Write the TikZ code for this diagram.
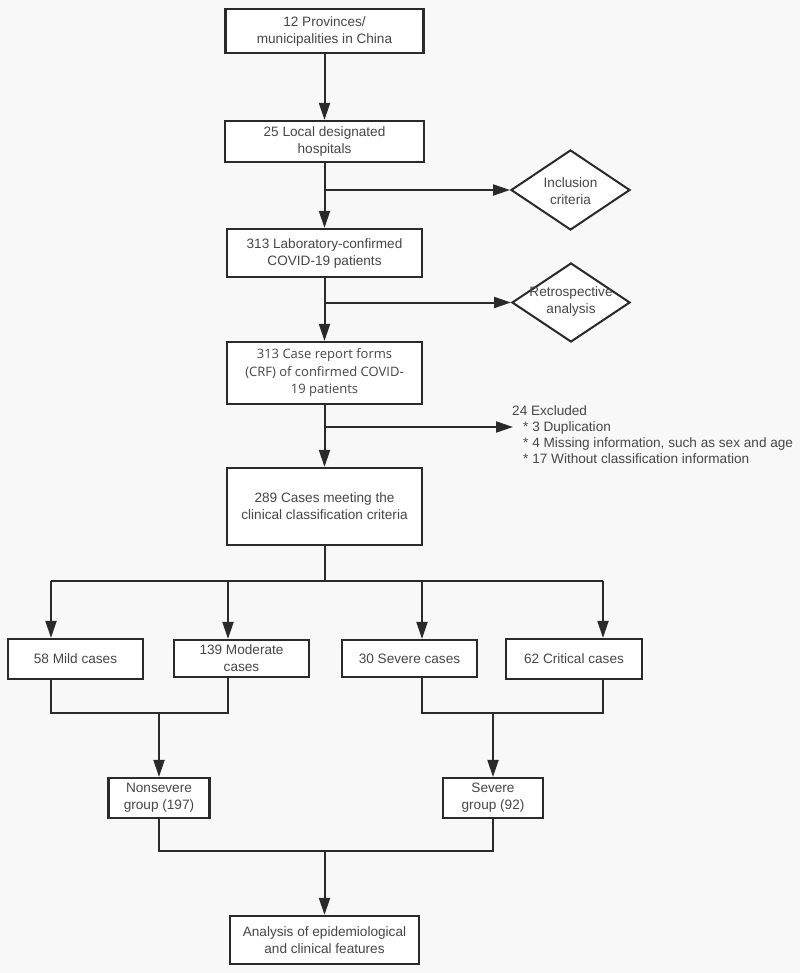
\documentclass[tikz,border=0pt]{standalone}
\usepackage{fontspec}
\setmainfont{Liberation Sans}
\newfontfamily\crffont{Open Sans}
\usetikzlibrary{shapes.geometric,arrows.meta}
\definecolor{bgc}{HTML}{F8F8F8}
\definecolor{linec}{HTML}{2A2A2A}
\definecolor{txtc}{HTML}{464646}
\begin{document}
\begin{tikzpicture}[x=1pt,y=-1pt,
  box/.style={draw=linec, line width=2.2pt, fill=white, inner sep=0pt, align=center, text=txtc, font=\fontsize{13.6}{17}\selectfont},
  dia/.style={draw=linec, line width=2pt, fill=white, diamond, inner sep=0pt},
  lbl/.style={text=txtc, align=center, inner sep=0pt, font=\fontsize{13.6}{17}\selectfont},
  conn/.style={draw=linec, line width=2pt},
  arr/.style={conn, -{Triangle[length=17pt,width=11pt]}},
]
\fill[bgc] (0,0) rectangle (800,973);
\useasboundingbox (0,0) rectangle (800,973);

% main column
\node[box, minimum width=198pt, minimum height=44pt] (b1) at (324.5,31) {12 Provinces/\\municipalities in China};
\node[box, minimum width=199pt, minimum height=41pt] (b2) at (324.5,141.5) {25 Local designated\\hospitals};
\node[box, minimum width=195pt, minimum height=48pt] (b3) at (324.5,253) {313 Laboratory-confirmed\\COVID-19 patients};
\node[box, minimum width=195pt, minimum height=62pt, font=\crffont\fontsize{13}{17.5}\selectfont] (b4) at (324.5,373) {313 Case report forms\\(CRF) of confirmed COVID-\\19 patients};
\node[box, minimum width=195pt, minimum height=77pt] (b5) at (324.5,506.5) {289 Cases meeting the\\clinical classification criteria};

% diamonds
\node[dia, minimum width=119pt, minimum height=80pt] (d1) at (570.5,190) {};
\node[lbl] (d1t) at (570.5,191) {Inclusion\\criteria};
\node[dia, minimum width=118pt, minimum height=79pt] (d2) at (571,302.5) {};
\node[lbl] (d2t) at (571,301) {Retrospective\\analysis};

% excluded text
\node[lbl, align=left, anchor=west, font=\fontsize{13.6}{16}\selectfont] (excl) at (512,435)
  {24 Excluded\\\hspace{11pt}* 3 Duplication\\\hspace{11pt}* 4 Missing information, such as sex and age\\\hspace{11pt}* 17 Without classification information};

% four classes
\node[box, minimum width=135pt, minimum height=40pt] (mild) at (75.5,659) {58 Mild cases};
\node[box, minimum width=135pt, minimum height=37pt] (moderate) at (241.5,658.5) {139 Moderate\\cases};
\node[box, minimum width=135pt, minimum height=37pt] (severe) at (409.5,658.5) {30 Severe cases};
\node[box, minimum width=136pt, minimum height=40pt] (critical) at (574,659) {62 Critical cases};

% groups
\node[box, minimum width=101pt, minimum height=40pt] (nonsev) at (159,798) {Nonsevere\\group (197)};
\node[box, minimum width=100pt, minimum height=40pt] (sevgrp) at (493,798) {Severe\\group (92)};

% final
\node[box, minimum width=189pt, minimum height=48pt] (final) at (324.5,940) {Analysis of epidemiological\\and clinical features};

% connectors main column
\coordinate (s1) at (324.5,190);
\coordinate (s2) at (324.5,302.5);
\coordinate (s3) at (324.5,427);
\coordinate (ex) at (513,427);
\draw[arr] (b1.south) -- (b2.north);
\draw[arr] (b2.south) -- (b3.north);
\draw[arr] (s1) -- (d1.west);
\draw[arr] (b3.south) -- (b4.north);
\draw[arr] (s2) -- (d2.west);
\draw[arr] (b4.south) -- (b5.north);
\draw[arr] (s3) -- (ex);

% split to four
\coordinate (h0) at (324.5,581);
\coordinate (hA) at (51,581);
\coordinate (hB) at (228,581);
\coordinate (hC) at (422,581);
\coordinate (hD) at (603,581);
\draw[conn] (b5.south) -- (h0);
\draw[conn] (hA) -- (hD);
\draw[arr] (hA) -- (hA |- mild.north);
\draw[arr] (hB) -- (hB |- moderate.north);
\draw[arr] (hC) -- (hC |- severe.north);
\draw[arr] (hD) -- (hD |- critical.north);

% merge into groups
\coordinate (gA) at (51,713);
\coordinate (gB) at (228,713);
\coordinate (gM) at (159,713);
\coordinate (gC) at (422,713);
\coordinate (gD) at (603,713);
\coordinate (gN) at (493,713);
\draw[conn] (mild.south -| gA) -- (gA) -- (gB) -- (moderate.south -| gB);
\draw[conn] (severe.south -| gC) -- (gC) -- (gD) -- (critical.south -| gD);
\draw[arr] (gM) -- (nonsev.north);
\draw[arr] (gN) -- (sevgrp.north);

% merge into final
\coordinate (kA) at (159,851);
\coordinate (kB) at (493,851);
\coordinate (kM) at (324.5,851);
\draw[conn] (nonsev.south) -- (kA) -- (kB) -- (sevgrp.south);
\draw[arr] (kM) -- (final.north);
\end{tikzpicture}
\end{document}
